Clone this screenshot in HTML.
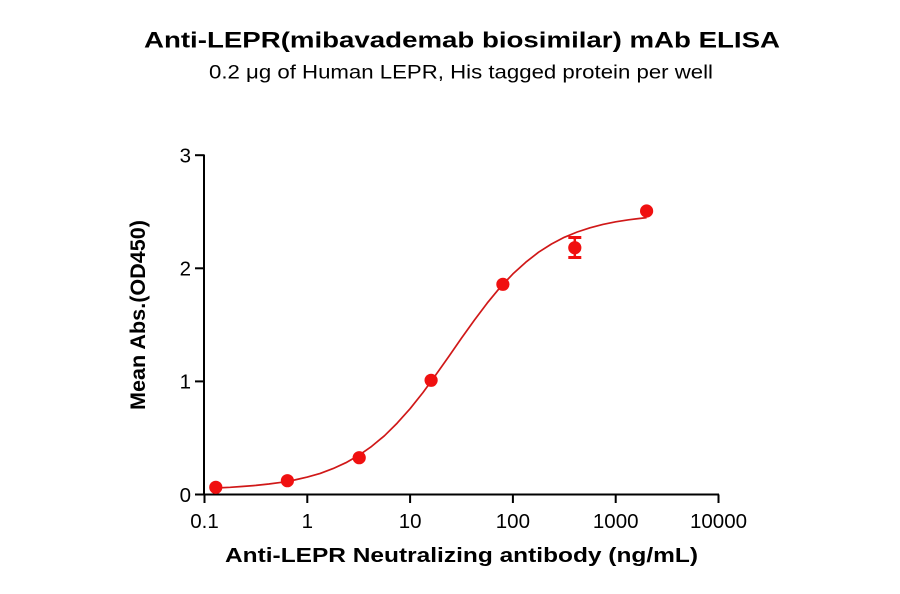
<!DOCTYPE html>
<html>
<head>
<meta charset="utf-8">
<style>
  html, body { margin: 0; padding: 0; background: #ffffff; }
  svg { display: block; }
  text { font-family: "Liberation Sans", Arial, sans-serif; fill: #000; }
</style>
</head>
<body>
<svg width="900" height="594" viewBox="0 0 900 594" xmlns="http://www.w3.org/2000/svg">
  <rect width="900" height="594" fill="#ffffff"/>

  <!-- Titles -->
  <text x="462" y="47.7" font-size="22.5" font-weight="bold" text-anchor="middle" textLength="636" lengthAdjust="spacingAndGlyphs">Anti-LEPR(mibavademab biosimilar) mAb ELISA</text>
  <text x="461" y="78.5" font-size="19.5" text-anchor="middle" textLength="504" lengthAdjust="spacingAndGlyphs">0.2 μg of Human LEPR, His tagged protein per well</text>

  <!-- Axes -->
  <g stroke="#000" stroke-width="2" fill="none">
    <line x1="204" y1="154.5" x2="204" y2="495.5"/>
    <line x1="203" y1="494.5" x2="719" y2="494.5"/>
    <!-- y ticks -->
    <line x1="195" y1="155.2" x2="204" y2="155.2"/>
    <line x1="195" y1="268.3" x2="204" y2="268.3"/>
    <line x1="195" y1="381.4" x2="204" y2="381.4"/>
    <line x1="195" y1="494.5" x2="204" y2="494.5"/>
    <!-- x ticks -->
    <line x1="204.5" y1="494.5" x2="204.5" y2="503"/>
    <line x1="307.3" y1="494.5" x2="307.3" y2="503"/>
    <line x1="410.1" y1="494.5" x2="410.1" y2="503"/>
    <line x1="512.9" y1="494.5" x2="512.9" y2="503"/>
    <line x1="615.7" y1="494.5" x2="615.7" y2="503"/>
    <line x1="718.5" y1="494.5" x2="718.5" y2="503"/>
  </g>

  <!-- y tick labels -->
  <g font-size="20.5" text-anchor="end">
    <text x="191" y="162.5">3</text>
    <text x="191" y="275.6">2</text>
    <text x="191" y="388.7">1</text>
    <text x="191" y="501.8">0</text>
  </g>

  <!-- x tick labels -->
  <g font-size="20.5" text-anchor="middle">
    <text x="204.5" y="528">0.1</text>
    <text x="307.3" y="528">1</text>
    <text x="410.1" y="528">10</text>
    <text x="512.9" y="528">100</text>
    <text x="615.7" y="528">1000</text>
    <text x="718.5" y="528">10000</text>
  </g>

  <!-- Axis titles -->
  <text x="461.5" y="562" font-size="20.5" font-weight="bold" text-anchor="middle" textLength="473" lengthAdjust="spacingAndGlyphs">Anti-LEPR Neutralizing antibody (ng/mL)</text>
  <text transform="translate(145,315) rotate(-90)" x="0" y="0" font-size="21.5" font-weight="bold" text-anchor="middle" textLength="190" lengthAdjust="spacingAndGlyphs">Mean Abs.(OD450)</text>

  <!-- Fitted curve -->
  <path fill="none" stroke="#d01818" stroke-width="1.7" stroke-linejoin="round"
    d="M215.5,488.0 L230.2,487.3 L241.6,486.5 L255.9,485.4 L268.8,484.0 L281.6,482.3 L294.5,480.0 L307.3,477.1 L320.2,473.4 L333.0,468.6 L345.9,462.7 L358.7,455.4 L371.6,446.4 L384.4,435.8 L397.2,423.1 L410.1,408.7 L423.0,392.5 L435.8,374.9 L448.7,356.6 L461.5,338.1 L474.4,320.1 L487.2,303.1 L500.0,287.6 L512.9,273.9 L525.8,262.2 L538.6,252.2 L551.5,244.0 L564.3,237.3 L577.2,232.0 L590.0,227.8 L602.8,224.4 L615.7,221.8 L628.6,219.8 L646.6,217.6"/>

  <!-- Error bar at 400 -->
  <g stroke="#f01010" fill="none">
    <line x1="574.8" y1="237" x2="574.8" y2="258" stroke-width="2.5"/>
    <line x1="568.3" y1="237.5" x2="581.3" y2="237.5" stroke-width="3"/>
    <line x1="568.3" y1="257.5" x2="581.3" y2="257.5" stroke-width="3"/>
  </g>

  <!-- Data points -->
  <g fill="#f01010">
    <circle cx="215.8" cy="487.3" r="6.6"/>
    <circle cx="287.4" cy="480.7" r="6.6"/>
    <circle cx="359.2" cy="457.7" r="6.6"/>
    <circle cx="431.1" cy="380.3" r="6.6"/>
    <circle cx="502.9" cy="284.3" r="6.6"/>
    <circle cx="574.8" cy="247.7" r="6.6"/>
    <circle cx="646.6" cy="211.0" r="6.6"/>
  </g>
</svg>
</body>
</html>
